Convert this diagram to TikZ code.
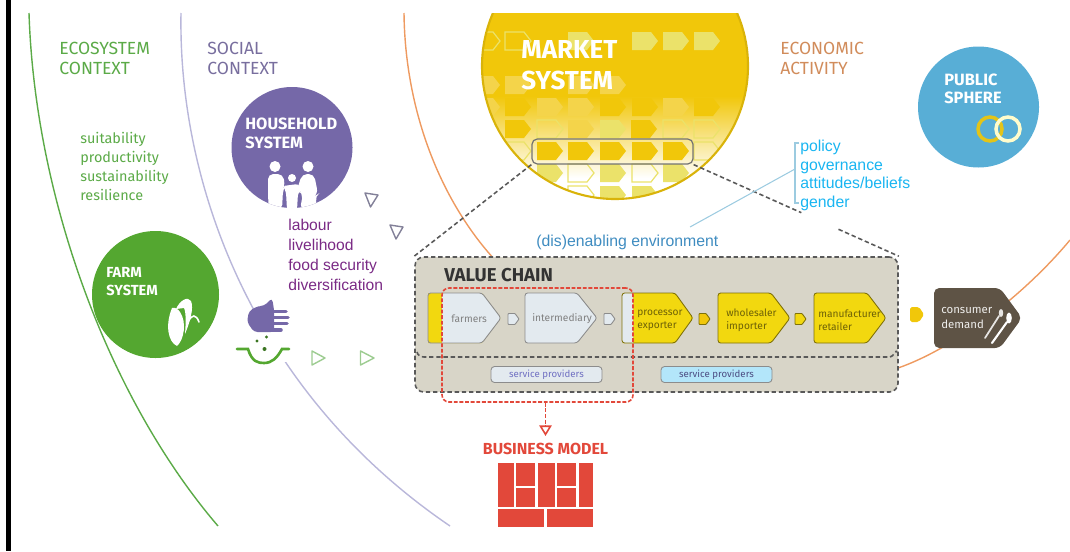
\documentclass[tikz,border=0pt]{standalone}
\usepackage{fontspec}
\setmainfont{Fira Sans}
\newfontfamily\arialfont{Liberation Sans}
\usetikzlibrary{arrows.meta,positioning,calc}

\definecolor{ecogreen}{HTML}{5BAA47}
\definecolor{farmgreen}{HTML}{54A730}
\definecolor{socialpurple}{HTML}{B9B7DA}
\definecolor{househ}{HTML}{7568A8}
\definecolor{econorange}{HTML}{EE9A60}
\definecolor{deepyellow}{HTML}{F1C70A}
\definecolor{paleyellow}{HTML}{EBE26A}
\definecolor{midyellow}{HTML}{F4D44A}
\definecolor{chainyellow}{HTML}{F2D80F}
\definecolor{chaingrey}{HTML}{D8D5C8}
\definecolor{chainpale}{HTML}{E3EAEF}
\definecolor{bizred}{HTML}{E2483A}
\definecolor{publicblue}{HTML}{58AED6}
\definecolor{linkblue}{HTML}{9CCBE0}
\definecolor{listblue}{HTML}{19B5F1}
\definecolor{brown}{HTML}{5E5345}
\definecolor{houselistc}{HTML}{7A2A85}
\definecolor{enablec}{HTML}{3F8CC0}
\definecolor{ringyellow}{HTML}{E3C419}

\newcommand{\fsz}[2]{\fontsize{#1}{#2}\selectfont}
% home plate in the market circle
\newcommand{\cellplate}[3]{\path[#3] (#1-13,#2-9) -- (#1+6,#2-9) -- (#1+13,#2) -- (#1+6,#2+9) -- (#1-13,#2+9) -- cycle;}
% left, shoulder, tip
\newcommand{\chainpent}[4]{\path[#4] (#1,293) -- (#2,293) -- (#3,318) -- (#2,343) -- (#1,343) -- cycle;}
% small link between the chain steps
\newcommand{\chainlink}[2]{\path[#2] (#1,313.5) -- (#1+7,313.5) -- (#1+11,319) -- (#1+7,324.5) -- (#1,324.5) -- cycle;}

\tikzset{
  contextlabel/.style={anchor=west,inner sep=0pt,align=left,font=\fsz{10}{11.4}},
  whitelabel/.style={anchor=west,inner sep=0pt,align=left,text=white,font=\bfseries\fsz{9.3}{10.6}},
  listlabel/.style={anchor=west,inner sep=0pt,align=left,font=\arialfont\fsz{8.9}{11.3}},
  steplabel/.style={anchor=west,inner sep=0pt,align=left,font=\fsz{5.8}{7.4}},
  sysdisc/.style={circle,inner sep=0pt,minimum size=#1},
  pentgrey/.style={draw=black!45,line width=.5pt,rounded corners=1.5pt},
  pentyellow/.style={draw=black!30!chainyellow!75!black,line width=.5pt,rounded corners=1.5pt},
  linkgrey/.style={draw=black!45,line width=.5pt,rounded corners=.4pt},
  linkyellow/.style={draw=black!30!chainyellow!75!black,line width=.5pt,rounded corners=.4pt},
  provider/.style={draw=black!45,line width=.5pt,rounded corners=2pt,minimum width=111*0.02cm,minimum height=16*0.02cm,inner sep=0pt,font=\fsz{5.5}{6}},
  softtri/.style={line width=.8pt,line join=round},
  dashlink/.style={draw=black!65,line width=.9pt,dash pattern=on 2.5pt off 1.6pt},
  reddash/.style={draw=bizred,line width=.9pt,dash pattern=on 2.2pt off 1pt}
}

\begin{document}
\begin{tikzpicture}[x=0.02cm,y=-0.02cm]
  \useasboundingbox (0,0) rectangle (1070,551);
  \fill[black] (6,0) rectangle (11,551);

  %% context arcs
  \draw[ecogreen,line width=.8pt] (29,13) .. controls (35,200) and (110,400) .. (218,526);
  \draw[socialpurple,line width=.8pt] (181,13) .. controls (178,180) and (250,390) .. (450,526);
  \draw[econorange,line width=.8pt] (404,13) .. controls (405,110) and (440,200) .. (495,260);
  \draw[econorange,line width=.8pt] (898,368) .. controls (950,350) and (1020,300) .. (1070,240);
  \fill[white] (245,310) rectangle (295,362);

  \node[contextlabel,text=ecogreen] (ecolabel) at (59,58.5) {ECOSYSTEM\\CONTEXT};
  \node[contextlabel,text=househ!75!gray] (sociallabel) at (207,58.5) {SOCIAL\\CONTEXT};
  \node[contextlabel,text=econorange!80!brown] (econlabel) at (780,58.5) {ECONOMIC\\ACTIVITY};
  \node[anchor=west,inner sep=0pt,align=left,text=ecogreen,font=\fsz{8.2}{10.8}] (ecolist) at (80,166.5)
    {suitability\\productivity\\sustainability\\resilience};

  %% market system
  \begin{scope}
    \clip (470,13) rectangle (760,210);
    \clip (615,66) circle (133);
    \fill[deepyellow] (470,13) rectangle (760,96);
    \shade[top color=deepyellow,bottom color=white] (470,96) rectangle (760,178);
    \foreach \cx/\cy in {487/85,518/85,581/85,613/85,550/107,581/107,676/107,581/129,487/107}
      \cellplate{\cx}{\cy}{fill=midyellow};
    \foreach \cx/\cy in {518/107,613/107,645/107,707/107,518/129,644/129,550/151,581/151,613/151,645/151,676/151}
      \cellplate{\cx}{\cy}{fill=deepyellow};
    \foreach \cx/\cy in {613/129,550/173,613/173,676/173,613/195,645/195,581/41,645/41,676/41,707/41}
      \cellplate{\cx}{\cy}{fill=paleyellow};
    \foreach \cx/\cy in {550/129,676/129,707/129,518/41,487/41,518/151,707/151,581/173,645/173,581/195,550/195}
      \cellplate{\cx}{\cy}{draw=paleyellow,line width=.7pt};
  \end{scope}
  \begin{scope}
    \clip (470,13) rectangle (760,210);
    \draw[deepyellow!90!black,line width=1.2pt] (615,66) circle (133);
  \end{scope}
  \node[anchor=west,inner sep=0pt,align=left,text=white,font=\bfseries\fsz{14.8}{17.6}] (marketlabel) at (521,65.5) {MARKET\\SYSTEM};
  \node[draw=black!55,line width=.7pt,rounded corners=3pt,inner sep=0pt,minimum width=161*0.02cm,minimum height=25*0.02cm] (marketbox) at (612.5,151.5) {};

  %% value chain
  \node[draw=black!65,fill=chaingrey,line width=.9pt,dash pattern=on 2.5pt off 1.6pt,rounded corners=5pt,inner sep=0pt,minimum width=483*0.02cm,minimum height=135*0.02cm] (chainbox) at (656.5,324.5) {};
  \draw[dashlink] (417,352) to[out=-80,in=180] (424,357) -- (890,357) to[out=0,in=100] (897,352);

  \coordinate (gapA) at ($(marketbox.south east)!0.525!(chainbox.north east)$);
  \coordinate (gapB) at ($(marketbox.south east)!0.706!(chainbox.north east)$);
  \draw[dashlink] (marketbox.south west) -- (chainbox.north west);
  \draw[dashlink] (marketbox.south east) -- (gapA);
  \draw[dashlink] (gapB) -- (chainbox.north east);

  \node[anchor=west,inner sep=0pt,text=black!80,font=\bfseries\fsz{10.6}{12}] (chainlabel) at (444,275) {VALUE CHAIN};

  \chainpent{428}{482}{501}{fill=chainyellow}
  \begin{scope}
    \clip (442,280) rectangle (510,350);
    \chainpent{428}{482}{501}{fill=chainpale}
  \end{scope}
  \chainpent{428}{482}{501}{pentgrey}
  \chainpent{525}{577}{597}{fill=chainpale,pentgrey}
  \chainpent{622}{675}{693}{fill=chainyellow}
  \begin{scope}
    \clip (615,280) rectangle (633,350);
    \chainpent{622}{675}{693}{fill=chainpale}
  \end{scope}
  \chainpent{622}{675}{693}{pentyellow}
  \chainpent{718}{771}{790}{fill=chainyellow,pentyellow}
  \chainpent{814}{867}{886}{fill=chainyellow,pentyellow}

  \chainlink{508}{fill=chainpale,linkgrey}
  \chainlink{604}{fill=chainpale,linkgrey}
  \chainlink{699}{fill=deepyellow,linkyellow}
  \chainlink{795}{fill=chainyellow,linkyellow}
  \path[fill=deepyellow,rounded corners=1pt] (910,307) -- (919,307) -- (924,314.5) -- (919,322) -- (910,322) -- cycle;

  \node[steplabel,text=black!50] (farmers) at (451,319) {farmers};
  \node[steplabel,text=black!50] (intermediary) at (532,319) {intermediary};
  \node[steplabel,text=chainyellow!45!black] (processor) at (637,320) {processor\\exporter};
  \node[steplabel,text=chainyellow!45!black] (wholesaler) at (726,320) {wholesaler\\importer};
  \node[steplabel,text=chainyellow!45!black] (manufacturer) at (818,320) {manufacturer\\retailer};

  \node[provider,fill=chainpale,text=blue!40!gray!80] (serviceA) at (546.5,374.5) {service providers};
  \node[provider,fill=cyan!30!white,text=blue!30!black!70] (serviceB) at (716.5,374.5) {service providers};

  %% consumer demand
  \path[fill=brown,rounded corners=3pt] (934,288) -- (1000,288) -- (1022,318) -- (1000,348) -- (934,348) -- cycle;
  \node[anchor=west,inner sep=0pt,align=left,text=white!90!brown,font=\fsz{6.5}{8}] (consumer) at (941,318) {consumer\\demand};
  \draw[white!85!brown,line width=1pt,line cap=round] (985,338) -- (999,316);
  \fill[white!85!brown] (1001,313) ellipse (2.2 and 4);
  \draw[white,line width=1.2pt,line cap=round] (992,343) -- (1007,322);
  \fill[white] (1009,318) ellipse (2.8 and 5.5);

  %% service arrow and business model
  \node[draw=bizred,line width=.9pt,dash pattern=on 2.2pt off 1pt,rounded corners=4pt,inner sep=0pt,minimum width=191*0.02cm,minimum height=114*0.02cm] (modelbox) at (537.5,345) {};
  \node[inner sep=0pt,text=bizred,font=\bfseries\fsz{9.1}{10}] (modellabel) at (545.5,449) {BUSINESS MODEL};
  \coordinate (modeltip) at (modellabel.north |- 0,436);
  \draw[reddash,-{Triangle[open,fill=white,length=6pt,width=7pt]}] (modelbox.south -| modeltip) -- (modeltip);

  \foreach \xa/\xb/\ya/\yb in {498/514/463/507,516/535/463/486,516/535/488/507,538/555/463/507,557/576/463/486,557/576/488/507,579/593/463/507,498/544/509/527,547/593/509/527}
    \fill[bizred] (\xa,\ya) rectangle (\xb,\yb);

  %% household
  \node[sysdisc=121*0.02cm,fill=househ] (household) at (292,147.5) {};
  \node[whitelabel] (householdlabel) at (245,133.5) {HOUSEHOLD\\SYSTEM};
  \begin{scope}
    \clip (292,147.5) circle (60.5);
    \fill[white] (275,166.5) circle (5.5) (292,178) circle (4) (308,166.5) circle (5.5);
    \fill[white,rounded corners=3pt] (268,196) -- (268,174) -- (283,174) -- (285,186) -- (283,190) -- (282,210) -- (269,210) -- cycle;
    \fill[white,rounded corners=1.5pt] (283,186) -- (298,184) -- (303,190) -- (298,193) -- (297,210) -- (287,210) -- (286,192) -- cycle;
    \fill[white,rounded corners=3pt] (302,174) -- (314,174) -- (318,194) -- (315,196) -- (318,210) -- (300,210) -- (303,193) -- (297,190) -- cycle;
  \end{scope}
  \draw[socialpurple!70!black,softtri] (365,193) -- (378,195) -- (370.5,207) -- cycle;
  \draw[socialpurple!70!black,softtri] (390,225) -- (403,227) -- (396,239) -- cycle;
  \node[listlabel,text=houselistc] (houselist) at (288,255) {labour\\livelihood\\food security\\diversification};

  %% farm
  \node[sysdisc=127*0.02cm,fill=farmgreen] (farm) at (155.5,294.5) {};
  \node[whitelabel,font=\bfseries\fsz{8.3}{10.2}] (farmlabel) at (106,282) {FARM\\SYSTEM};
  \fill[white] (172,308) .. controls (165,325) and (168,342) .. (177,346) .. controls (184,340) and (187,322) .. (180,312) .. controls (178,309) and (175,307) .. (172,308) -- cycle;
  \fill[white] (176,309) .. controls (180,300) and (188,296) .. (191,301) .. controls (194,308) and (190,322) .. (185,334) .. controls (186,322) and (186,312) .. (184,308) -- cycle;
  \draw[white,line width=.9pt,line cap=round] (188,322) .. controls (192,314) and (196,314) .. (199,322);

  %% hand and bowl
  \fill[househ,rounded corners=2pt] (247,322) -- (249,311) -- (258,306) -- (264,306) -- (272,298) -- (274,309) -- (274,332) -- (254,332) -- cycle;
  \draw[househ,line width=2pt,line cap=round] (272,311.5) -- (286,311.5) (272,317.5) -- (288,317.5) (272,323.5) -- (287,323.5) (268,330) -- (281,330);
  \fill[farmgreen!70!black] (257,341) circle (1.6) (266.5,337) circle (1.6) (264.5,349) circle (2);
  \draw[farmgreen,line width=1.5pt,line cap=round] (237,349) -- (248,349) .. controls (252,362) and (258,363) .. (264,363) .. controls (272,363) and (277,358) .. (282,349) -- (289,349);
  \draw[ecogreen!60!white,softtri] (312,351) -- (325,358) -- (312,365) -- cycle;
  \draw[ecogreen!60!white,softtri] (360.5,351) -- (374,358) -- (360.5,365) -- cycle;

  %% public sphere
  \node[sysdisc=121*0.02cm,fill=publicblue] (public) at (978.5,107) {};
  \node[whitelabel] (publiclabel) at (944,89) {PUBLIC\\SPHERE};
  \draw[ringyellow,line width=2pt] (990,129) circle (12);
  \draw[yellow!20!white,line width=2pt] (1008,129) circle (12);

  %% enabling environment
  \node[anchor=west,inner sep=0pt,text=enablec,font=\arialfont\fsz{9}{10}] (enablinglabel) at (536,242) {(dis)enabling environment};
  \node[listlabel,text=listblue,font=\arialfont\fsz{9}{10.6}] (policylist) at (800,175.5) {policy\\governance\\attitudes/beliefs\\gender};
  \coordinate (bracketmid) at (795,169);
  \draw[linkblue,line width=.6pt] (799,143) -- (795,143) -- (795,203) -- (799,203);
  \draw[linkblue,line width=.6pt] (bracketmid) -- (690,227);
\end{tikzpicture}
\end{document}
